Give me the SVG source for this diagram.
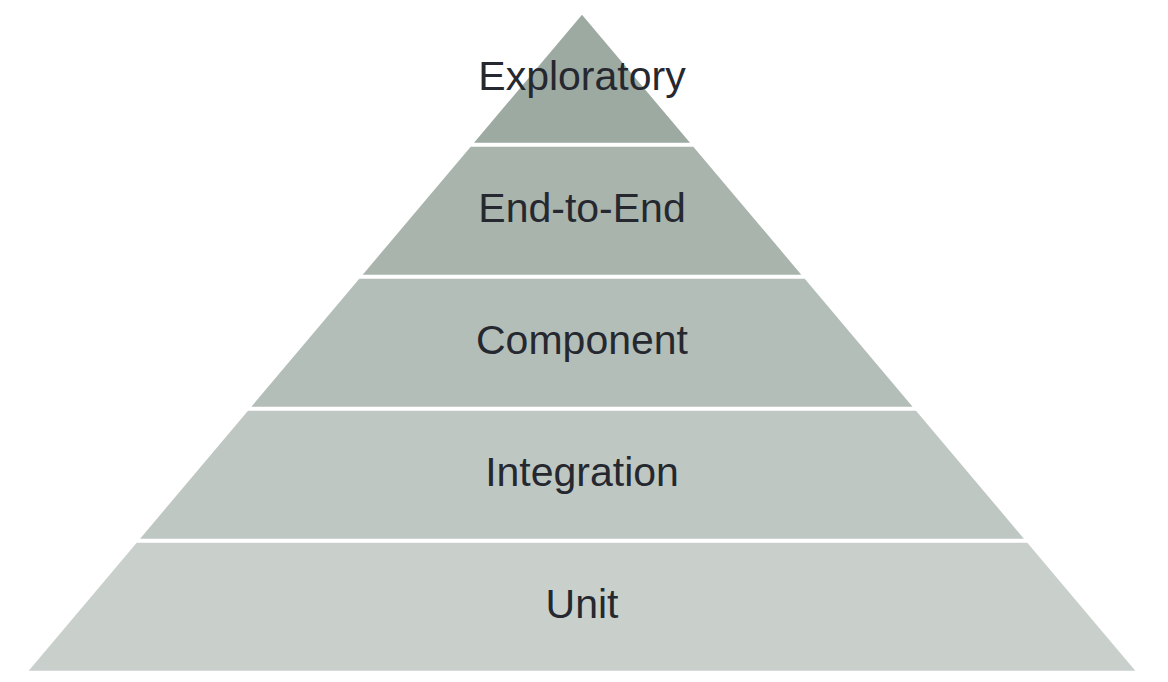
<svg xmlns="http://www.w3.org/2000/svg" width="1168" height="682" viewBox="0 0 1168 682">
<style>
.lbl{font-family:"Liberation Sans",Arial,sans-serif;font-size:41px;fill:#262830;text-anchor:middle}
</style>
<rect width="1168" height="682" fill="#ffffff"/>
<g id="layer-exploratory">
<polygon points="582,14.7 690,142.7 474,142.7" fill="#9daaa2"/>
<text class="lbl" x="582" y="90">Exploratory</text>
</g>
<g id="layer-end-to-end">
<polygon points="470.7,146.7 693.3,146.7 801.3,274.7 362.7,274.7" fill="#a9b4ad"/>
<text class="lbl" x="582" y="222">End-to-End</text>
</g>
<g id="layer-component">
<polygon points="359.3,278.7 804.7,278.7 912.6,406.7 251.4,406.7" fill="#b4beb8"/>
<text class="lbl" x="582" y="354">Component</text>
</g>
<g id="layer-integration">
<polygon points="248,410.7 916,410.7 1023.9,538.7 140.1,538.7" fill="#bfc7c2"/>
<text class="lbl" x="582" y="486">Integration</text>
</g>
<g id="layer-unit">
<polygon points="136.7,542.7 1027.3,542.7 1135.3,670.7 28.7,670.7" fill="#c9d0cc"/>
<text class="lbl" x="582" y="618">Unit</text>
</g>
<g id="connectors"></g>
</svg>
